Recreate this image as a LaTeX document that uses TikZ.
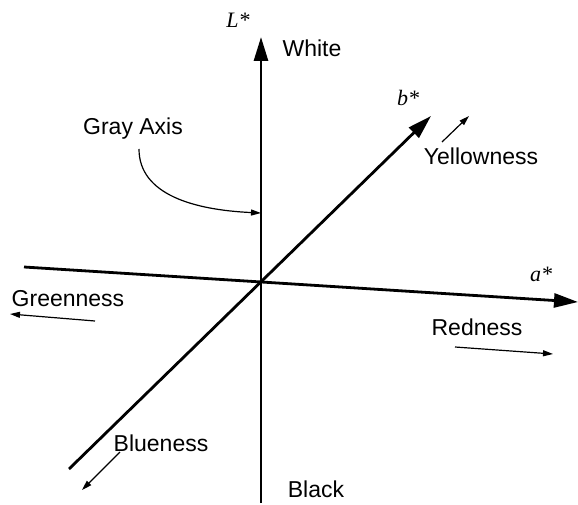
\documentclass[tikz,border=0pt]{standalone}
\usepackage{fontspec}
\setmainfont{Liberation Sans}
\newfontfamily\serifit{Liberation Serif}
\usetikzlibrary{arrows.meta}
\tikzset{
  axis/.style={line width=2.8pt,-{Triangle[length=24pt,width=14pt]}},
  thinarrow/.style={line width=1.2pt,-{Triangle[length=10pt,width=6pt]}},
  lbl/.style={inner sep=0pt,font=\fontsize{23}{27}\selectfont},
  mlbl/.style={inner sep=0pt,font=\fontsize{22}{26}\selectfont\serifit\itshape}
}
\begin{document}
\begin{tikzpicture}[x=1pt,y=-1pt]
\useasboundingbox (0,0) rectangle (578,505);
% axes
\coordinate (Lbot) at (261,503);
\coordinate (Ltop) at (261,37);
\coordinate (Aleft) at (24,267);
\coordinate (Aright) at (578,302);
\coordinate (Bbot) at (69,469);
\coordinate (Btop) at (431,116);
\draw[axis] (Lbot) -- (Ltop);
\draw[axis] (Aleft) -- (Aright);
\draw[axis] (Bbot) -- (Btop);
% axis labels
\node[mlbl] (Lstar) at (238,20) {L*};
\node[mlbl] (astar) at (541,274) {a*};
\node[mlbl] (bstar) at (408,98) {b*};
% text labels
\node[lbl] (white) at (312,48) {White};
\node[lbl] (black) at (316,489) {Black};
\node[lbl] (yellow) at (481,156) {Yellowness};
\node[lbl] (green) at (68,299) {Greenness};
\node[lbl] (red) at (477,327) {Redness};
\node[lbl] (blue) at (161,443) {Blueness};
\node[lbl] (gray) at (133,129) {Gray Axis};
% small direction arrows
\coordinate (y1) at (442,142); \coordinate (y2) at (469,116);
\coordinate (g1) at (95,321);  \coordinate (g2) at (10,314);
\coordinate (r1) at (455,347); \coordinate (r2) at (553,354);
\coordinate (b1) at (120,452); \coordinate (b2) at (82,490);
\draw[thinarrow] (y1) -- (y2);
\draw[thinarrow] (g1) -- (g2);
\draw[thinarrow] (r1) -- (r2);
\draw[thinarrow] (b1) -- (b2);
% gray axis pointer
\coordinate (ga1) at (139,149);
\coordinate (ga2) at (261,213);
\draw[thinarrow] (ga1) .. controls (139,195) and (195,210) .. (ga2);
\end{tikzpicture}
\end{document}
